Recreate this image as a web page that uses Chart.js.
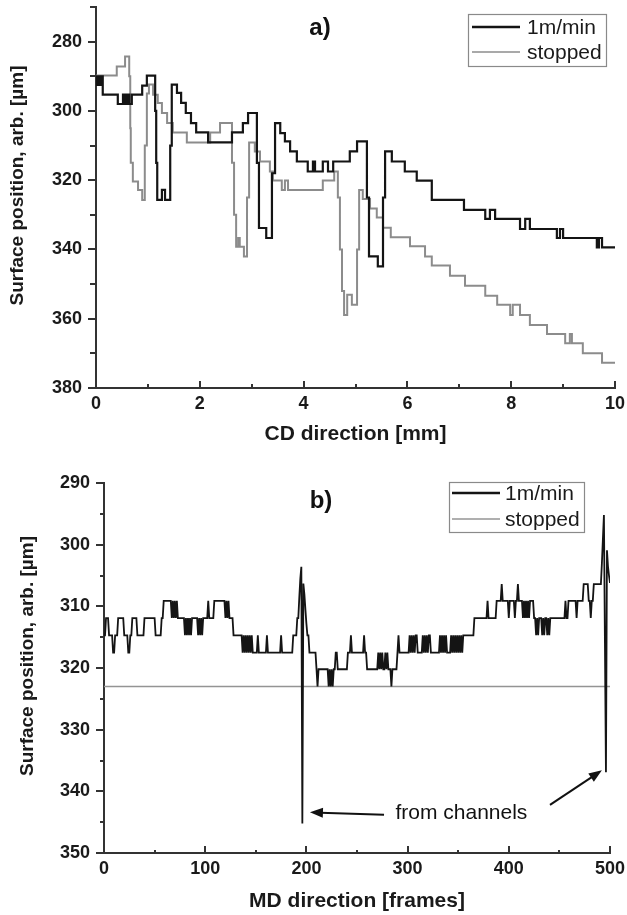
<!DOCTYPE html>
<html>
<head>
<meta charset="utf-8">
<script src="https://cdn.jsdelivr.net/npm/chart.js@4.4.0/dist/chart.umd.min.js"></script>
<style>
  html, body { margin: 0; padding: 0; background: #fff; }
  #wrap { position: relative; width: 627px; height: 915px; }
  #cd { position: absolute; left: 0; top: 0; }
  #md { position: absolute; left: 0; top: 455px; }
</style>
</head>
<body>
<div id="wrap">
  <canvas id="cd" width="627" height="455"></canvas>
  <canvas id="md" width="627" height="460"></canvas>
</div>
<script>
// a) CD profile: start of each step [mm] and surface position [µm]
const cdMovingX = [0, 0.02, 0.04, 0.06, 0.08, 0.10, 0.12, 0.13, 0.42, 0.52, 0.56, 0.60, 0.64, 0.69, 0.89, 0.98,
  1.14, 1.16, 1.18, 1.27, 1.33, 1.43, 1.46, 1.56, 1.64, 1.73, 1.83, 1.93, 2.16, 2.62, 2.83, 2.93,
  3.10, 3.14, 3.28, 3.39, 3.45, 3.55, 3.64, 3.74, 3.87, 4.08, 4.18, 4.22, 4.37, 4.47, 4.57, 4.89,
  5.03, 5.22, 5.26, 5.43, 5.53, 5.57, 5.70, 5.95, 6.18, 6.47, 7.09, 7.50, 7.59, 7.69, 8.17, 8.27,
  8.36, 8.88, 8.94, 9.00, 9.65, 9.69, 9.75, 10.0];
const cdMovingY = [290.0, 292.5, 290.0, 292.5, 290.0, 292.5, 290.0, 295.3, 298.0, 295.3, 298.0, 295.3, 298.0, 295.3, 292.7, 289.8,
  300.0, 315.0, 325.7, 322.8, 325.7, 310.0, 292.4, 294.8, 297.7, 300.6, 303.5, 306.2, 309.1, 306.2, 303.5, 300.6,
  315.0, 333.8, 336.7, 318.0, 303.5, 306.4, 308.8, 311.7, 314.6, 317.5, 314.6, 317.5, 314.6, 317.5, 314.6, 311.7,
  308.8, 325.0, 342.0, 344.9, 325.0, 311.7, 314.6, 317.5, 320.1, 325.7, 328.6, 331.2, 328.6, 331.2, 334.1, 331.2,
  334.1, 336.7, 334.1, 336.7, 339.4, 336.7, 339.4, 339.4];
const cdStoppedX = [0, 0.40, 0.56, 0.64, 0.66, 0.67, 0.71, 0.81, 0.89, 0.94, 0.98, 1.02, 1.10, 1.19, 1.27, 1.37,
  1.48, 1.75, 2.20, 2.39, 2.62, 2.66, 2.70, 2.74, 2.77, 2.85, 2.91, 2.95, 3.06, 3.16, 3.35, 3.41,
  3.58, 3.64, 3.70, 4.37, 4.59, 4.66, 4.70, 4.74, 4.78, 4.84, 4.93, 5.03, 5.07, 5.14, 5.28, 5.41,
  5.53, 5.68, 6.05, 6.34, 6.47, 6.82, 7.11, 7.50, 7.73, 7.98, 8.03, 8.17, 8.36, 8.69, 9.04, 9.13,
  9.17, 9.38, 9.75, 10.0];
const cdStoppedY = [289.8, 287.2, 284.3, 290.0, 305.0, 315.0, 320.4, 322.8, 325.7, 310.0, 295.0, 292.4, 295.3, 297.7, 300.6, 303.5,
  306.2, 309.1, 306.2, 303.5, 315.0, 330.0, 339.2, 336.7, 339.2, 342.0, 325.0, 309.1, 311.7, 314.6, 317.5, 320.1,
  322.8, 320.1, 322.8, 320.1, 317.5, 325.0, 340.0, 352.0, 358.9, 353.1, 356.0, 340.0, 322.8, 325.4, 328.2, 330.8,
  333.7, 336.5, 339.1, 342.0, 344.6, 347.6, 350.5, 353.4, 356.0, 358.9, 356.0, 358.9, 361.8, 364.4, 367.1, 364.4,
  367.1, 370.0, 372.7, 372.7];
const cdXTicks = [0, 2, 4, 6, 8, 10];
const cdXMinor = [1, 3, 5, 7, 9];
const cdYTicks = [280, 300, 320, 340, 360, 380];
const cdYMinor = [270, 290, 310, 330, 350, 370];
const cdXTitle = 'CD direction [mm]';

// b) MD profile: first frame of each run and its surface position [µm]
const mdRunFrame = [0, 2, 5, 9, 11, 14, 20, 24, 26, 28, 33, 40, 51, 57, 59,
  67, 68, 69, 70, 71, 72, 73, 80, 81, 82, 83, 84, 85, 86, 87, 93, 94, 95, 96, 97, 98,
  103, 104, 109, 120, 121, 122, 123, 124, 128, 137, 138, 139, 140, 141, 142, 143, 144, 145, 146, 147,
  152, 153, 161, 162, 175, 176, 187, 191, 193, 194, 195, 196, 197, 198, 199, 200, 201, 203,
  210, 211, 212, 222, 223, 224, 225, 226, 227, 229, 231, 241, 244, 245, 257, 258, 260,
  271, 272, 273, 274, 275, 276, 278, 279, 280, 281, 284, 285, 290, 291, 292,
  302, 303, 304, 305, 306, 307, 308, 310, 315, 316, 317, 318, 319, 320, 321, 323,
  332, 333, 334, 335, 336, 337, 338, 339, 343, 344, 345, 346, 347, 348, 349, 350, 351, 352, 353, 354, 355,
  366, 379, 380, 388, 393, 394, 400, 401, 406, 407, 409, 410, 414, 415, 416, 417, 418, 419, 420, 421,
  425, 427, 428, 429, 430, 433, 434, 435, 436, 438, 439, 440, 441, 456, 457, 459, 467, 468, 474, 479,
  481, 482, 484, 492, 493, 494, 495, 496, 497, 498, 499, 500];
const mdRunLevel = [314.7, 311.9, 314.7, 317.5, 314.7, 311.9, 314.7, 317.5, 314.7, 311.9, 314.7, 311.9, 314.7, 311.9, 309.1,
  311.9, 309.1, 311.9, 309.1, 311.9, 309.1, 311.9, 314.7, 311.9, 314.7, 311.9, 314.7, 311.9, 314.7, 311.9, 314.7, 311.9, 314.7, 311.9, 314.7, 311.9,
  309.1, 311.9, 309.1, 311.9, 309.1, 311.9, 309.1, 311.9, 314.7, 317.5, 314.7, 317.5, 314.7, 317.5, 314.7, 317.5, 314.7, 317.5, 314.7, 317.5,
  314.7, 317.5, 314.7, 317.5, 314.7, 317.5, 314.7, 311.9, 308.5, 305.5, 303.6, 345.2, 306.3, 308.0, 310.5, 312.8, 314.7, 317.5,
  320.2, 323.0, 320.2, 323.0, 320.2, 323.0, 320.2, 323.0, 320.2, 317.5, 320.2, 317.5, 314.7, 317.5, 314.7, 317.5, 320.2,
  317.5, 320.2, 317.5, 320.2, 317.5, 320.2, 317.5, 320.2, 317.5, 320.2, 323.0, 320.2, 317.5, 314.7, 317.5,
  314.7, 317.5, 314.7, 317.5, 314.7, 317.5, 314.7, 317.5, 314.7, 317.5, 314.7, 317.5, 314.7, 317.5, 314.7, 317.5,
  314.7, 317.5, 314.7, 317.5, 314.7, 317.5, 314.7, 317.5, 314.7, 317.5, 314.7, 317.5, 314.7, 317.5, 314.7, 317.5, 314.7, 317.5, 314.7, 317.5, 314.7,
  311.9, 309.1, 311.9, 309.1, 306.4, 309.1, 311.9, 309.1, 311.9, 309.1, 306.4, 309.1, 311.9, 309.1, 311.9, 309.1, 311.9, 309.1, 311.9, 309.1,
  311.9, 314.7, 311.9, 314.7, 311.9, 314.7, 311.9, 314.7, 311.9, 314.7, 311.9, 314.7, 311.9, 309.1, 311.9, 309.1, 311.9, 309.1, 306.4, 309.1,
  311.9, 309.1, 306.4, 303.0, 299.0, 295.2, 316.0, 336.9, 300.9, 303.5, 305.0, 306.2];
const mdStoppedFrame = [0, 500];
const mdStoppedLevel = [323.0, 323.0];
const mdXTicks = [0, 100, 200, 300, 400, 500];
const mdXMinor = [50, 150, 250, 350, 450];
const mdYTicks = [290, 300, 310, 320, 330, 340, 350];
const mdYMinor = [295, 305, 315, 325, 335, 345];
const mdXTitle = 'MD direction [frames]';
const yTitle = 'Surface position, arb. [µm]';

// annotation: text position and two arrows (tail -> tip), in data units
const noteText = 'from channels';
const noteAt = [288, 343.5];
const arrows = [[[276.7, 343.8], [203.5, 343.4]], [[440.7, 342.2], [492, 336.6]]];

const FONT = '"Liberation Sans", Arial, Helvetica, sans-serif';
Chart.defaults.font.family = FONT;
Chart.defaults.color = '#1a1a1a';

function pairs(xs, ys) { return xs.map((x, i) => ({ x: x, y: ys[i] })); }

// each run holds its level until the frame before the next run starts
function runsToPoints(frames, levels) {
  const pts = [];
  for (let i = 0; i < frames.length; i++) {
    pts.push({ x: frames[i], y: levels[i] });
    const end = i + 1 < frames.length ? frames[i + 1] - 1 : frames[i];
    if (end > frames[i]) pts.push({ x: end, y: levels[i] });
  }
  return pts;
}

// tick marks: x ticks point into the plot, y ticks point outwards
const axisTicks = {
  id: 'axisTicks',
  afterDraw(chart, args, o) {
    const { ctx, chartArea: a, scales: { x, y } } = chart;
    ctx.save();
    ctx.strokeStyle = '#333';
    ctx.lineWidth = 2;
    ctx.beginPath();
    const xt = (vals, len) => vals.forEach(v => { const p = Math.round(x.getPixelForValue(v)); ctx.moveTo(p, a.bottom); ctx.lineTo(p, a.bottom - len); });
    const yt = (vals, len) => vals.forEach(v => { const p = Math.round(y.getPixelForValue(v)); ctx.moveTo(a.left, p); ctx.lineTo(a.left - len, p); });
    xt(o.xMajor, o.xMajorLen); xt(o.xMinor, o.xMinorLen);
    yt(o.yMajor, o.yMajorLen); yt(o.yMinor, o.yMinorLen);
    ctx.stroke();
    ctx.restore();
  }
};

// axis titles, placed like in the original figure (y title a bit above centre)
const axisTitles = {
  id: 'axisTitles',
  afterDraw(chart, args, o) {
    const { ctx, chartArea: a } = chart;
    ctx.save();
    ctx.fillStyle = '#1a1a1a';
    ctx.textAlign = 'center';
    ctx.textBaseline = 'middle';
    ctx.font = 'bold 21px ' + FONT;
    ctx.fillText(o.x, (a.left + a.right) / 2 + o.xShift, o.xPos);
    ctx.translate(o.yPos, (a.top + a.bottom) / 2 + o.yShift);
    ctx.rotate(-Math.PI / 2);
    ctx.font = 'bold 19px ' + FONT;
    ctx.fillText(o.y, 0, 0);
    ctx.restore();
  }
};

const boxLegend = {
  id: 'boxLegend',
  afterDraw(chart, args, o) {
    const ctx = chart.ctx;
    ctx.save();
    ctx.strokeStyle = '#8a8a8a';
    ctx.lineWidth = 1.2;
    ctx.strokeRect(o.x + 0.5, o.y + 0.5, o.w, o.h);
    ctx.font = '21px ' + FONT;
    ctx.textBaseline = 'middle';
    ctx.textAlign = 'left';
    chart.data.datasets.forEach((ds, i) => {
      const yy = o.y + o.first + i * o.step;
      ctx.strokeStyle = ds.borderColor;
      ctx.lineWidth = ds.legendWidth;
      ctx.beginPath();
      ctx.moveTo(o.x + o.lineFrom, yy);
      ctx.lineTo(o.x + o.lineTo, yy);
      ctx.stroke();
      ctx.fillStyle = '#1a1a1a';
      ctx.fillText(ds.label, o.x + o.textX, yy + 1);
    });
    ctx.restore();
  }
};

const panelLabel = {
  id: 'panelLabel',
  afterDraw(chart, args, o) {
    const ctx = chart.ctx;
    ctx.save();
    ctx.font = 'bold 24px ' + FONT;
    ctx.fillStyle = '#111';
    ctx.textAlign = 'center';
    ctx.textBaseline = 'middle';
    ctx.fillText(o.text, o.x, o.y);
    ctx.restore();
  }
};

const notes = {
  id: 'notes',
  afterDraw(chart) {
    const { ctx, scales: { x, y } } = chart;
    ctx.save();
    ctx.fillStyle = '#111';
    ctx.strokeStyle = '#111';
    ctx.lineWidth = 2;
    ctx.font = '21px ' + FONT;
    ctx.textBaseline = 'middle';
    ctx.fillText(noteText, x.getPixelForValue(noteAt[0]), y.getPixelForValue(noteAt[1]));
    arrows.forEach(([t, h]) => {
      const x0 = x.getPixelForValue(t[0]), y0 = y.getPixelForValue(t[1]);
      const x1 = x.getPixelForValue(h[0]), y1 = y.getPixelForValue(h[1]);
      const ang = Math.atan2(y1 - y0, x1 - x0);
      const hl = 13, hw = 5;
      ctx.beginPath();
      ctx.moveTo(x0, y0);
      ctx.lineTo(x1 - Math.cos(ang) * hl * 0.8, y1 - Math.sin(ang) * hl * 0.8);
      ctx.stroke();
      ctx.beginPath();
      ctx.moveTo(x1, y1);
      ctx.lineTo(x1 - Math.cos(ang) * hl - Math.sin(ang) * hw, y1 - Math.sin(ang) * hl + Math.cos(ang) * hw);
      ctx.lineTo(x1 - Math.cos(ang) * hl + Math.sin(ang) * hw, y1 - Math.sin(ang) * hl - Math.cos(ang) * hw);
      ctx.closePath();
      ctx.fill();
    });
    ctx.restore();
  }
};

function axis(o) {
  return {
    type: 'linear',
    min: o.min, max: o.max, reverse: !!o.reverse,
    afterBuildTicks: s => { s.ticks = o.ticks.map(v => ({ value: v })); },
    afterFit: s => {
      if (o.width) s.width = o.width;
      if (o.height) s.height = o.height;
      // the plot frame is fixed by layout padding, labels may overhang it
      s.paddingTop = 0; s.paddingBottom = 0; s.paddingLeft = 0; s.paddingRight = 0;
    },
    grid: { display: false, drawTicks: false },
    border: { display: true, color: '#333', width: 2 },
    ticks: { autoSkip: false, maxRotation: 0, padding: o.pad, color: '#1a1a1a', font: { size: 18, weight: 'bold' } },
    title: { display: false }
  };
}

new Chart(document.getElementById('cd'), {
  type: 'line',
  data: {
    datasets: [
      { label: '1m/min', data: pairs(cdMovingX, cdMovingY), stepped: true, borderColor: '#141414', borderWidth: 2.2, legendWidth: 2.6, pointRadius: 0, fill: false },
      { label: 'stopped', data: pairs(cdStoppedX, cdStoppedY), stepped: true, borderColor: '#8c8c8c', borderWidth: 2, legendWidth: 1.5, pointRadius: 0, fill: false }
    ]
  },
  options: {
    responsive: false, animation: false,
    layout: { autoPadding: false, padding: { top: 7, right: 12, left: 0, bottom: 0 } },
    scales: {
      x: axis({ min: 0, max: 10, ticks: cdXTicks, height: 67, pad: 5 }),
      y: axis({ min: 270, max: 380, reverse: true, ticks: cdYTicks, width: 96, pad: 14 })
    },
    plugins: {
      legend: { display: false }, tooltip: { enabled: false },
      axisTicks: { xMajor: cdXTicks, xMinor: cdXMinor, yMajor: cdYTicks, yMinor: cdYMinor, xMajorLen: 7, xMinorLen: 4, yMajorLen: 8, yMinorLen: 6 },
      axisTitles: { x: cdXTitle, xShift: 0, xPos: 434, y: yTitle, yPos: 18, yShift: -12 },
      boxLegend: { x: 468, y: 14, w: 138, h: 52, first: 13, step: 25, lineFrom: 4, lineTo: 52, textX: 59 },
      panelLabel: { text: 'a)', x: 320, y: 28 }
    }
  },
  plugins: [axisTicks, axisTitles, boxLegend, panelLabel]
});

new Chart(document.getElementById('md'), {
  type: 'line',
  data: {
    datasets: [
      { label: '1m/min', data: runsToPoints(mdRunFrame, mdRunLevel), borderColor: '#141414', borderWidth: 1.8, legendWidth: 2.6, pointRadius: 0, fill: false, tension: 0 },
      { label: 'stopped', data: pairs(mdStoppedFrame, mdStoppedLevel), borderColor: '#949494', borderWidth: 1.6, legendWidth: 1.5, pointRadius: 0, fill: false }
    ]
  },
  options: {
    responsive: false, animation: false,
    layout: { autoPadding: false, padding: { top: 28, right: 17, left: 0, bottom: 0 } },
    scales: {
      x: axis({ min: 0, max: 500, ticks: mdXTicks, height: 62, pad: 5 }),
      y: axis({ min: 290, max: 350, reverse: true, ticks: mdYTicks, width: 104, pad: 14 })
    },
    plugins: {
      legend: { display: false }, tooltip: { enabled: false },
      axisTicks: { xMajor: mdXTicks, xMinor: mdXMinor, yMajor: mdYTicks, yMinor: mdYMinor, xMajorLen: 7, xMinorLen: 3, yMajorLen: 8, yMinorLen: 4 },
      axisTitles: { x: mdXTitle, xShift: 0, xPos: 446, y: yTitle, yPos: 28, yShift: -12 },
      boxLegend: { x: 449, y: 27, w: 135, h: 50, first: 11, step: 26, lineFrom: 3, lineTo: 51, textX: 56 },
      panelLabel: { text: 'b)', x: 321, y: 46 }
    }
  },
  plugins: [axisTicks, axisTitles, boxLegend, panelLabel, notes]
});
</script>
</body>
</html>
